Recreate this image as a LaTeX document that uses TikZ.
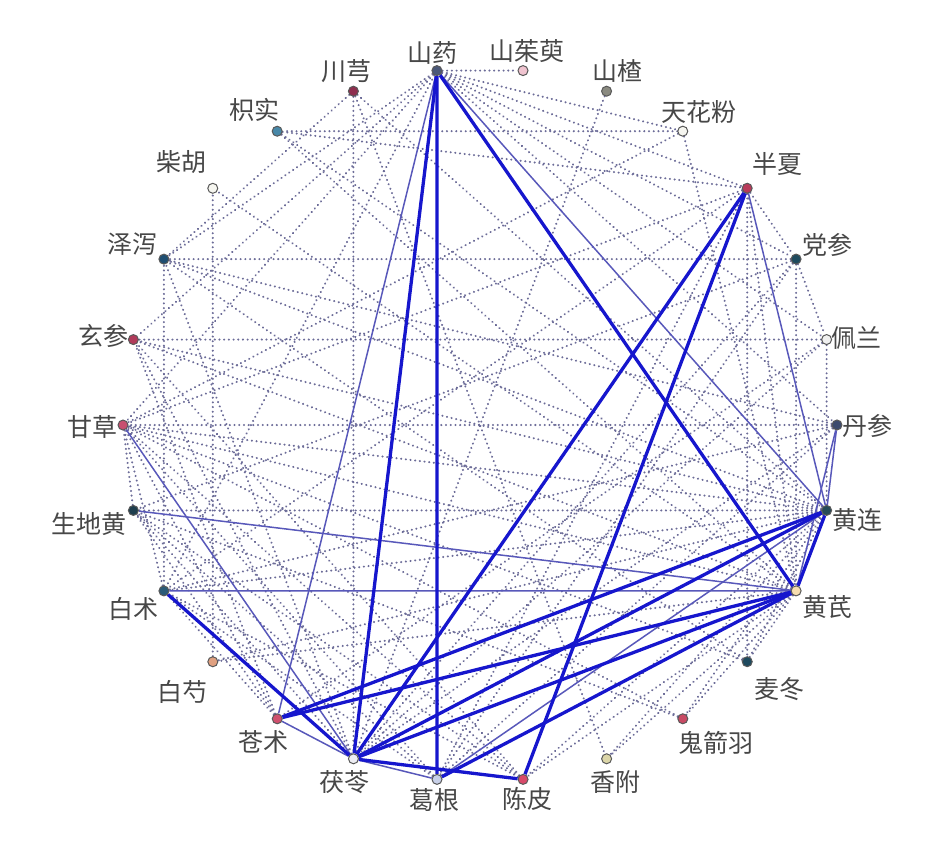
\documentclass[tikz,border=0pt]{standalone}
\usepackage{fontspec}
\newfontfamily\cjk{Noto Sans CJK SC}
\usetikzlibrary{backgrounds}
\definecolor{lineagris}{RGB}{108,108,152}
\definecolor{azulfino}{RGB}{88,88,186}
\definecolor{azulfuerte}{RGB}{22,22,205}
\definecolor{cSY}{RGB}{74,88,120}
\definecolor{cSZY}{RGB}{240,196,208}
\definecolor{cSZ}{RGB}{138,138,128}
\definecolor{cTHF}{RGB}{246,246,240}
\definecolor{cBX}{RGB}{184,58,90}
\definecolor{cDS}{RGB}{30,74,94}
\definecolor{cPL}{RGB}{240,240,240}
\definecolor{cDN}{RGB}{60,74,110}
\definecolor{cHL}{RGB}{37,74,88}
\definecolor{cHQ}{RGB}{246,221,176}
\definecolor{cMD}{RGB}{30,74,94}
\definecolor{cGJY}{RGB}{200,74,100}
\definecolor{cXF}{RGB}{220,214,168}
\definecolor{cCP}{RGB}{216,74,106}
\definecolor{cGG}{RGB}{200,208,232}
\definecolor{cFL}{RGB}{238,238,244}
\definecolor{cCZ}{RGB}{208,80,110}
\definecolor{cBS}{RGB}{224,160,128}
\definecolor{cBZ}{RGB}{42,90,120}
\definecolor{cSDH}{RGB}{30,62,78}
\definecolor{cGC}{RGB}{200,80,112}
\definecolor{cXS}{RGB}{176,58,90}
\definecolor{cZX}{RGB}{30,78,114}
\definecolor{cCH}{RGB}{246,246,240}
\definecolor{cZS}{RGB}{72,136,168}
\definecolor{cCX}{RGB}{142,46,78}

\begin{document}
\begin{tikzpicture}[x=1pt,y=1pt,
  punto/.style={circle,draw=black!65,line width=1pt,inner sep=0pt,minimum size=10pt},
  etiq/.style={font=\cjk\fontsize{25}{25}\selectfont,text=black!72,inner sep=0pt},
  punteada/.style={draw=lineagris,line width=2.2pt,dash pattern=on 0.1pt off 4.6pt,line cap=round},
  fina/.style={draw=azulfino,line width=1.5pt},
  gruesa/.style={draw=azulfuerte,line width=3.3pt}]
  \useasboundingbox (0,0) rectangle (939,856);
  % hierbas en circulo
  \begin{scope}[shift={(480,431)}]
    \foreach \n/\c [count=\i from 0] in {shanzhuyu/cSZY,shanzha/cSZ,tianhuafen/cTHF,banxia/cBX,dangshen/cDS,peilan/cPL,danshen/cDN,huanglian/cHL,huangqi/cHQ,maidong/cMD,guijianyu/cGJY,xiangfu/cXF,chenpi/cCP,gegen/cGG,fuling/cFL,cangzhu/cCZ,baishao/cBS,baizhu/cBZ,shengdihuang/cSDH,gancao/cGC,xuanshen/cXS,zexie/cZX,chaihu/cCH,zhishi/cZS,chuanxiong/cCX,shanyao/cSY}
      \node[punto,fill=\c] (\n) at ({83.08-13.846*\i}:357) {};
  \end{scope}
  % nombres
  \foreach \n/\dx/\dy/\t in {shanzhuyu/4/20/山茱萸,shanzha/11/20/山楂,tianhuafen/16/19/天花粉,banxia/30/24/半夏,dangshen/31/14/党参,peilan/30/2/佩兰,danshen/30/-1/丹参,huanglian/31/-10/黄连,huangqi/31/-16/黄芪,maidong/32/-27/麦冬,guijianyu/33/-24/鬼箭羽,xiangfu/9/-23/香附,chenpi/4/-20/陈皮,gegen/-3/-21/葛根,fuling/-9/-23/茯苓,cangzhu/-14/-23/苍术,baishao/-30/-30/白芍,baizhu/-30/-18/白术,shengdihuang/-44/-14/生地黄,gancao/-31/-2/甘草,xuanshen/-30/4/玄参,zexie/-31/15/泽泻,chaihu/-31/26/柴胡,zhishi/-23/21/枳实,chuanxiong/-7/20/川芎,shanyao/-4/18/山药}
    \node[etiq] (\n-t) at ([shift={(\dx,\dy)}]\n) {\t};
  \begin{scope}[on background layer]
    % relaciones debiles
    \foreach \a/\b in {shanyao/shanzhuyu,shanyao/tianhuafen,shanyao/banxia,shanyao/dangshen,shanyao/peilan,shanyao/danshen,shanyao/zexie,shanyao/gancao,shanyao/baizhu,shanyao/xuanshen,
      chuanxiong/fuling,chuanxiong/xiangfu,chuanxiong/huanglian,chuanxiong/zexie,shanzha/fuling,
      tianhuafen/gancao,tianhuafen/huangqi,tianhuafen/zhishi,zhishi/banxia,zhishi/huanglian,zhishi/huangqi,
      banxia/gancao,banxia/baizhu,banxia/dangshen,banxia/maidong,banxia/huangqi,banxia/gegen,
      dangshen/peilan,dangshen/huangqi,dangshen/zexie,dangshen/shengdihuang,dangshen/fuling,dangshen/gegen,
      peilan/xuanshen,peilan/cangzhu,peilan/huanglian,peilan/fuling,
      danshen/gancao,danshen/baizhu,danshen/fuling,danshen/gegen,danshen/zexie,
      huanglian/zexie,huanglian/xuanshen,huanglian/gancao,huanglian/shengdihuang,huanglian/baishao,huanglian/baizhu,huanglian/chenpi,huanglian/xiangfu,huanglian/guijianyu,huanglian/maidong,
      huangqi/chaihu,huangqi/xuanshen,huangqi/gancao,huangqi/baishao,huangqi/chenpi,huangqi/xiangfu,huangqi/guijianyu,huangqi/maidong,
      maidong/zexie,maidong/gancao,guijianyu/gancao,guijianyu/shengdihuang,
      chenpi/gancao,chenpi/baizhu,chenpi/xuanshen,chenpi/shengdihuang,
      gegen/gancao,gegen/shengdihuang,gegen/baizhu,
      fuling/shengdihuang,fuling/xuanshen,fuling/zexie,
      cangzhu/shengdihuang,cangzhu/gancao,cangzhu/xuanshen,cangzhu/baizhu,
      baishao/chaihu,baizhu/zexie,baizhu/gancao,shengdihuang/gancao}
      \draw[punteada] (\a) -- (\b);
    % relaciones medias
    \foreach \a/\b in {shanyao/cangzhu,shanyao/huanglian,banxia/huanglian,danshen/huanglian,danshen/huangqi,gancao/fuling,shengdihuang/huangqi,baizhu/huangqi,gegen/huanglian,cangzhu/fuling,fuling/gegen}
      \draw[fina] (\a) -- (\b);
    % relaciones fuertes
    \foreach \a/\b in {shanyao/fuling,shanyao/gegen,shanyao/huangqi,banxia/fuling,banxia/chenpi,huanglian/cangzhu,huanglian/fuling,huanglian/huangqi,huangqi/cangzhu,huangqi/fuling,huangqi/gegen,baizhu/fuling,fuling/chenpi}
      \draw[gruesa] (\a) -- (\b);
  \end{scope}
\end{tikzpicture}
\end{document}
